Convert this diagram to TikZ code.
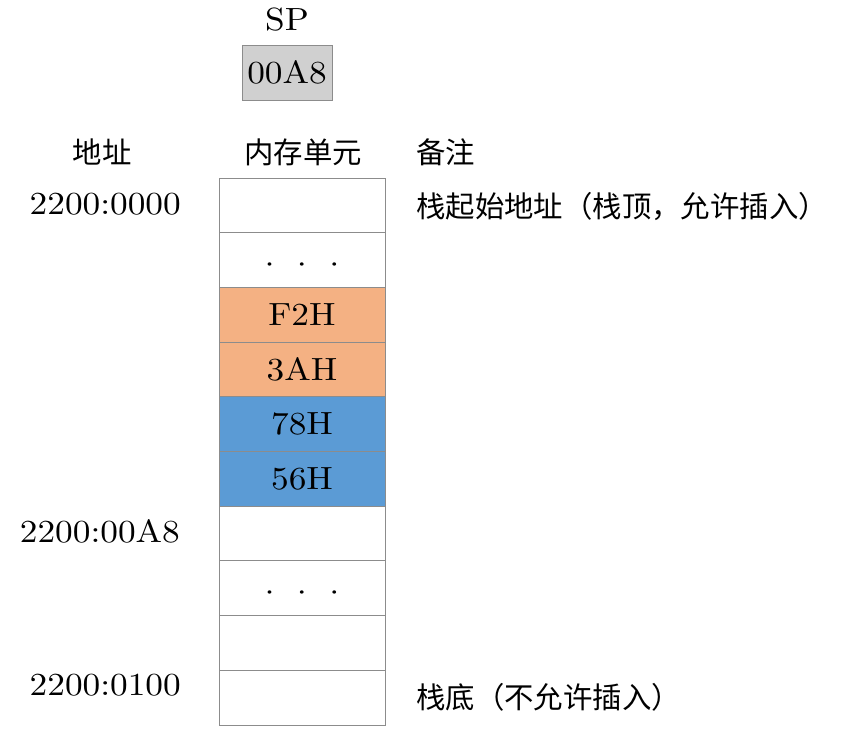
\documentclass[tikz,border=0pt]{standalone}
\usepackage{fontspec}
\setmainfont{lmroman10-regular.otf}[FakeStretch=1.1,Scale=1.07]
\newfontfamily\cjk{Noto Sans CJK SC}[Scale=0.98]
\usetikzlibrary{positioning}
\definecolor{cellline}{HTML}{8C8C8C}
\definecolor{spgray}{HTML}{D0D0D0}
\definecolor{pushed}{HTML}{F4B183}
\definecolor{stacked}{HTML}{5B9BD5}
\newcommand\bigtext{\fontsize{30}{36}\selectfont}
\newcommand\celldots{\raisebox{-15pt}[0pt][0pt]{·\hspace{5pt}·\hspace{5pt}·}}
\tikzset{
  cell/.style={draw=cellline,line width=1pt,minimum width=166pt,minimum height=54.7pt,
    inner sep=0pt,outer sep=0pt},
  head/.style={inner sep=0pt,font=\bigtext\cjk},
  addr/.style={inner sep=0pt,anchor=east},
  note/.style={inner sep=0pt,anchor=west,font=\bigtext\cjk}
}
\begin{document}
\begin{tikzpicture}[x=1pt,y=-1pt,every node/.style={font=\bigtext}]
  \useasboundingbox (0,0) rectangle (842,750);
  % stack pointer
  \node[inner sep=0pt] (sp) at (287,20) {SP};
  \node[draw=cellline,fill=spgray,line width=1pt,minimum width=90pt,minimum height=55pt,inner sep=0pt]
    (spval) at (287,72.5) {00A8};
  % column heads
  \node[head] (haddr) at (102,152) {地址};
  \node[head] (hmem) at (303,152) {内存单元};
  \node[head,anchor=west] (hnote) at (416,152) {备注};
  % memory cells, top to bottom
  \node[cell,anchor=north] (c1) at (302,178) {};
  \node[cell,below=0pt of c1] (c2) {\celldots};
  \node[cell,fill=pushed,below=0pt of c2] (c3) {F2H};
  \node[cell,fill=pushed,below=0pt of c3] (c4) {3AH};
  \node[cell,fill=stacked,below=0pt of c4] (c5) {78H};
  \node[cell,fill=stacked,below=0pt of c5] (c6) {56H};
  \node[cell,below=0pt of c6] (c7) {};
  \node[cell,below=0pt of c7] (c8) {\celldots};
  \node[cell,below=0pt of c8] (c9) {};
  \node[cell,below=0pt of c9] (c10) {};
  % addresses
  \node[addr] (a1) at (181,204) {2200:0000};
  \node[addr] (a7) at (180,531) {2200:00A8};
  \node[addr] (a10) at (181,685) {2200:0100};
  % notes
  \node[note] (ntop) at (416,206) {栈起始地址（栈顶，允许插入）};
  \node[note] (nbot) at (416,697) {栈底（不允许插入）};
\end{tikzpicture}
\end{document}
